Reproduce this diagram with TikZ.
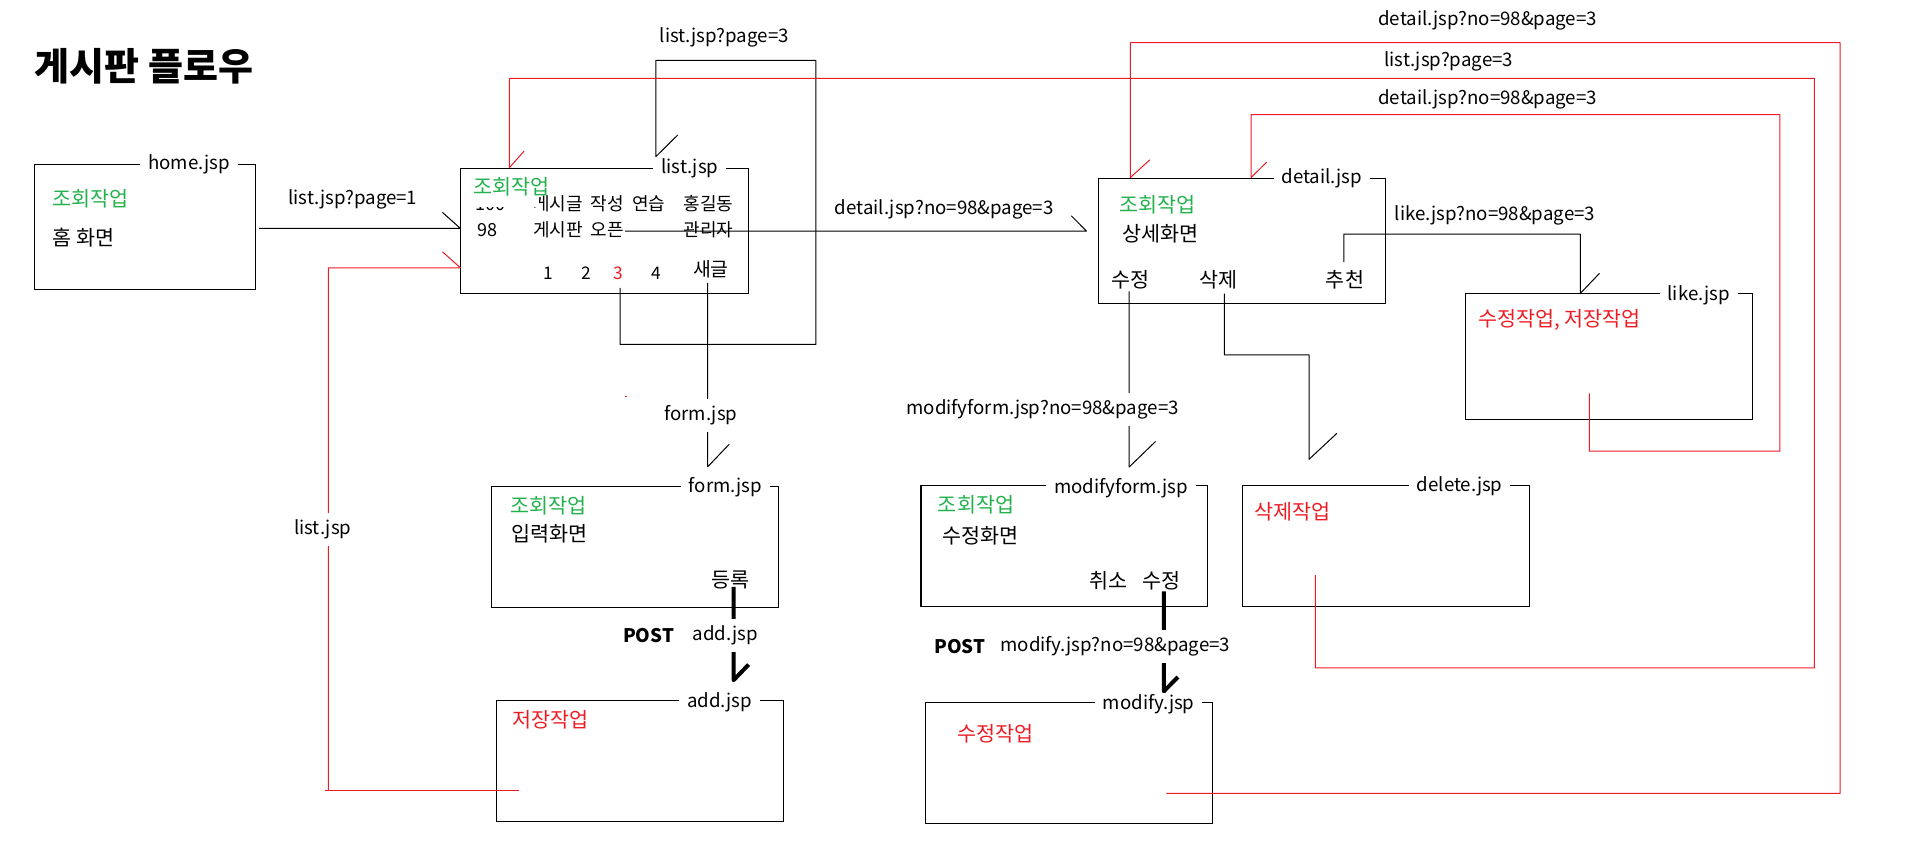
\documentclass[tikz,border=0pt]{standalone}
\usepackage{fontspec}
\setmainfont{Noto Sans CJK KR}
\usetikzlibrary{fit}
\definecolor{pred}{RGB}{237,28,36}
\definecolor{pgreen}{RGB}{34,177,76}
\newcommand{\wsp}{\hspace{0.45em}}
\begin{document}
\begin{tikzpicture}[x=0.914pt,y=-0.914pt,
  every node/.style={font=\fontsize{14}{16}\selectfont, inner sep=0pt},
  ko/.style={font=\fontsize{15.5}{18}\selectfont},
  box/.style={draw=black, line width=0.8pt, inner sep=0pt},
  lbl/.style={fill=white, inner xsep=6pt, inner ysep=1pt},
  ln/.style={draw=black, line width=0.75pt, line join=round},
  rln/.style={draw=pred, line width=0.75pt, line join=round},
  thk/.style={draw=black, line width=3pt, line join=round},
  gtxt/.style={ko, text=pgreen, anchor=west},
  rtxt/.style={ko, text=pred, anchor=west},
  btxt/.style={ko, anchor=west},
  rowtxt/.style={font=\fontsize{13.5}{15}\selectfont},
  pgtxt/.style={font=\fontsize{13}{15}\selectfont},
]
\useasboundingbox (0,0) rectangle (1568,711);

% title
\node[anchor=west, font=\fontsize{28.5}{32}\selectfont\bfseries] (title) at (28,54) {게시판 플로우};

% boxes
\node[box, fit={(28.5,134.8) (209.3,237.3)}] (home) {};
\node[box, fit={(378,138) (613.6,240.4)}] (list) {};
\node[box, fit={(901,146) (1136,249)}] (detail) {};
\node[box, fit={(1202,241) (1437.5,344)}] (like) {};
\node[box, fit={(403,398.7) (638.5,498.2)}] (form) {};
\node[box, fit={(755.3,398) (990.4,497.7)}] (mform) {};
\node[box, fit={(1019,398) (1254.6,497.7)}] (delete) {};
\node[box, fit={(407.4,574.2) (642.6,674)}] (add) {};
\node[box, fit={(759,576) (994.7,675)}] (modify) {};

% ---- texts inside boxes
\node[gtxt] (h1) at (43.1,163.3) {조회작업};
\node[btxt] (h2) at (43.1,194.7) {홈 화면};

% list box rows
\node[rowtxt] (n100) at (402,167) {100};
\node[rowtxt, anchor=west] (t100) at (437,167) {게시글\wsp 작성\wsp 연습};
\node[rowtxt] (w100) at (581,167) {홍길동};
\node[rowtxt] (n98) at (400,188.5) {98};
\node[rowtxt, anchor=west] (t98) at (437,188.5) {게시판\wsp 오픈};
\node[rowtxt] (w98) at (581,188.5) {관리자};
\fill[white] (380,140) rectangle (442,170);
\node[gtxt] (l1) at (388,153) {조회작업};
\node[pgtxt] (pg1) at (450,224) {1};
\node[pgtxt] (pg2) at (481,224) {2};
\node[pgtxt, text=pred] (pg3) at (507,224) {3};
\node[pgtxt] (pg4) at (538,224) {4};
\node[font=\fontsize{14.5}{16}\selectfont] (newp) at (583,221) {새글};

\node[gtxt] (d1) at (918,168) {조회작업};
\node[btxt] (d2) at (920,192) {상세화면};
\node[ko] (dmod) at (926.8,229.7) {수정};
\node[ko] (ddel) at (999.5,229.7) {삭제};
\node[ko] (drec) at (1103,229.7) {추천};

\node[rtxt] (k1) at (1212,262.6) {수정작업, 저장작업};

\node[gtxt] (f1) at (418.4,415) {조회작업};
\node[btxt] (f2) at (419,437.5) {입력화면};
\node[ko] (freg) at (599.4,475.8) {등록};

\node[gtxt] (m1) at (769,414) {조회작업};
\node[btxt] (m2) at (772.8,439) {수정화면};
\node[ko] (mcan) at (909.4,476) {취소};
\node[ko] (mmod) at (952.8,476) {수정};

\node[rtxt] (x1) at (1028.5,419.7) {삭제작업};
\node[rtxt] (a1) at (420.3,590) {저장작업};
\node[rtxt] (y1) at (785,602) {수정작업};

% ---- connectors
% home -> list
\coordinate (c1) at (212.6,187.3);
\draw[ln] (c1) -- (list.west |- c1) -- ++(-14.7,-13.1);
% list row -> detail
\coordinate (c2) at (512.7,189.5);
\coordinate (c2e) at (891,189.5);
\draw[ln] (c2) -- (c2e) -- ++(-12.4,-12.5);
% page 3 -> list
\coordinate (c3) at (508.6,236);
\draw[ln] (c3) -- (508.6,282.5) -- (669,282.5) -- (669,49.5) -- (537.8,49.5) -- (537.8,128.5) -- ++(18,-17.8);
% new -> form
\coordinate (c4) at (580.4,232);
\draw[ln] (c4) -- (580.4,382.8) -- ++(17.7,-18.6);
% detail modify -> modifyform
\coordinate (c5) at (926,239);
\draw[ln] (c5) -- (926,383) -- ++(21.7,-21);
% detail delete -> delete
\coordinate (c6) at (1004,240.7);
\draw[ln] (c6) -- (1004,291) -- (1073.5,291) -- (1073.5,376.7) -- ++(22.8,-21.3);
% recommend -> like
\coordinate (c7) at (1102,215);
\draw[ln] (c7) -- (1102,192) -- (1296,192) -- (1296,0 |- like.north) -- ++(15.7,-16.4);
% form register -> add (POST)
\coordinate (c8) at (601.6,481.3);
\draw[thk] (c8) -- (601.6,557.8) -- ++(12.3,-12.8);
% modifyform modify -> modify (POST)
\coordinate (c9) at (954.4,485);
\draw[thk] (c9) -- (954.4,567) -- ++(11.6,-11.8);
% add -> list (red)
\coordinate (r1) at (426,648.6);
\draw[rln] (r1) -- (266.6,648.6);
\draw[rln] (269.3,648.6) -- (269.3,219.6) -- (list.west |- 0,219.6) -- ++(-14.7,-13.1);
% delete -> list (red)
\coordinate (r2) at (1078.8,471.7);
\draw[rln] (r2) -- (1078.8,547.7) -- (1488,547.7) -- (1488,64.3) -- (417.7,64.3) -- (417.7,0 |- list.north) -- ++(12.1,-13.7);
% like -> detail (red)
\coordinate (r3) at (1303.4,322.6);
\draw[rln] (r3) -- (1303.4,370) -- (1459.6,370) -- (1459.6,94) -- (1026,94) -- (1026,0 |- detail.north) -- ++(12.8,-12.6);
% modify -> detail (red)
\coordinate (r4) at (956.5,650.7);
\draw[rln] (r4) -- (1509,650.7) -- (1509,35) -- (927,35) -- (927,0 |- detail.north) -- ++(16,-14.5);
% stray mark
\fill[pred] (512.8,324.9) rectangle (513.8,325.9);

% ---- box labels (cut the border)
\node[lbl] (homeL) at (154.9,134.8) {home.jsp};
\node[lbl] (listL) at (565.7,138) {list.jsp};
\node[lbl] (detailL) at (1084,146) {detail.jsp};
\node[lbl] (likeL) at (1393,242) {like.jsp};
\node[lbl] (formL) at (594.8,399.5) {form.jsp};
\node[lbl] (mformL) at (919.4,400) {modifyform.jsp};
\node[lbl] (deleteL) at (1197,399) {delete.jsp};
\node[lbl] (addL) at (590,576) {add.jsp};
\node[lbl] (modifyL) at (942,577.5) {modify.jsp};

% ---- connector labels
\node (e1) at (289.4,163.3) {list.jsp?page=1};
\node (e2) at (774.4,171.5) {detail.jsp?no=98\&page=3};
\node (e3) at (594,30.6) {list.jsp?page=3};
\node[lbl, inner ysep=5pt] (e4) at (574.8,340.5) {form.jsp};
\node[lbl, inner ysep=5pt] (e5) at (855,336) {modifyform.jsp?no=98\&page=3};
\node (e6) at (1226,177) {like.jsp?no=98\&page=3};
\node[lbl, inner ysep=5pt] (e7) at (594.8,521) {add.jsp};
\node[font=\fontsize{14}{16}\selectfont\bfseries] (e7p) at (531.9,521) {POST};
\node[lbl, inner ysep=5pt] (e8) at (914.7,530) {modify.jsp?no=98\&page=3};
\node[font=\fontsize{14}{16}\selectfont\bfseries] (e8p) at (787,530) {POST};
\node[lbl, inner ysep=5pt, inner xsep=2pt] (e9) at (264.7,434.2) {list.jsp};
\node (e10) at (1220,17) {detail.jsp?no=98\&page=3};
\node (e11) at (1188,50.6) {list.jsp?page=3};
\node (e12) at (1220,81.5) {detail.jsp?no=98\&page=3};
\end{tikzpicture}
\end{document}
